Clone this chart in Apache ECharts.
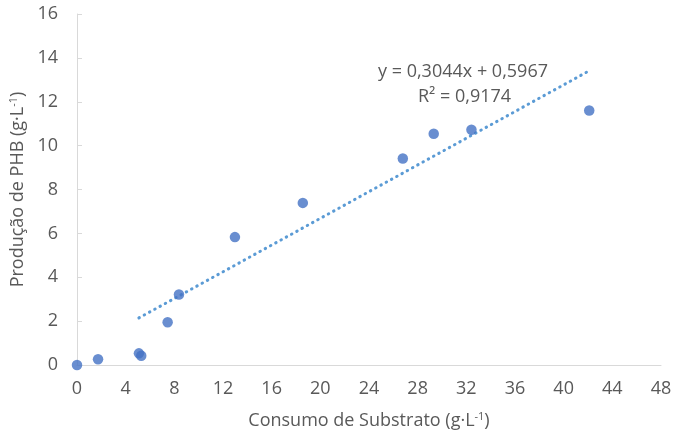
<!DOCTYPE html>
<html>
<head>
<meta charset="utf-8">
<script src="https://cdn.jsdelivr.net/npm/echarts@6/dist/echarts.min.js"></script>
<style>
  html, body { margin: 0; padding: 0; background: #fff; }
  #chart { width: 676px; height: 436px; }
</style>
</head>
<body>
<div id="chart"></div>
<script>
// Substrate consumed (g/L) vs PHB produced (g/L)
const substrato = [0, 1.73, 5.09, 5.28, 7.45, 8.38, 12.98, 18.56, 26.78, 29.32, 32.42, 42.1];
const producao  = [0, 0.26, 0.53, 0.42, 1.95, 3.21, 5.83, 7.39, 9.41, 10.54, 10.72, 11.6];

// Linear fit reported for the data from x = 5.09 onward
const slope = 0.3044;
const intercept = 0.5967;
const fitRange = [5.09, 42.1];
const equationText = 'y = 0,3044x + 0,5967';
const r2Text = 'R² = 0,9174';

const xTicks = [0, 4, 8, 12, 16, 20, 24, 28, 32, 36, 40, 44, 48];
const yTicks = [0, 2, 4, 6, 8, 10, 12, 14, 16];

const FONT = '"Open Sans", Lato, sans-serif';
const TXT = '#595959';
const supStyle = { fontSize: 11, verticalAlign: 'top', color: TXT, fontFamily: FONT, padding: [0, 0, 8, 0] };

const points = substrato.map((x, i) => [x, producao[i]]);
const fitLine = fitRange.map(x => [x, slope * x + intercept]);

const chart = echarts.init(document.getElementById('chart'), null, { renderer: 'canvas' });
chart.setOption({
  animation: false,
  backgroundColor: '#ffffff',
  grid: { left: 77, right: 15, top: 14, bottom: 71, containLabel: false },
  xAxis: {
    type: 'value',
    min: xTicks[0], max: xTicks[xTicks.length - 1], interval: 4,
    axisLine: { show: true, lineStyle: { color: '#d9d9d9', width: 1 } },
    axisTick: { show: false },
    splitLine: { show: false },
    axisLabel: { color: TXT, fontFamily: FONT, fontSize: 18, margin: 15 },
    name: 'Consumo de Substrato (g·L{s|-1})',
    nameLocation: 'middle',
    nameGap: 46,
    nameTextStyle: { color: TXT, fontFamily: FONT, fontSize: 18, rich: { s: supStyle } }
  },
  yAxis: {
    type: 'value',
    min: yTicks[0], max: yTicks[yTicks.length - 1], interval: 2,
    axisLine: { show: true, lineStyle: { color: '#d9d9d9', width: 1 } },
    axisTick: { show: true, inside: true, length: 5, lineStyle: { color: '#d9d9d9' } },
    splitLine: { show: false },
    axisLabel: { color: TXT, fontFamily: FONT, fontSize: 18, margin: 19 },
    name: 'Produção de PHB (g·L{s|-1})',
    nameLocation: 'middle',
    nameGap: 47,
    nameTextStyle: { color: TXT, fontFamily: FONT, fontSize: 18, rich: { s: supStyle } }
  },
  series: [
    {
      type: 'line',
      data: fitLine,
      showSymbol: false,
      symbol: 'none',
      lineStyle: { color: '#5b9bd5', width: 3, type: [0.5, 5.5], cap: 'round' },
      z: 2
    },
    {
      type: 'scatter',
      data: points,
      symbol: 'circle',
      symbolSize: 10.5,
      itemStyle: { color: '#4472c4' },
      z: 3
    }
  ],
  graphic: [
    {
      type: 'text', left: 378, top: 63,
      style: { text: equationText, fill: TXT, font: '18px ' + FONT }
    },
    {
      type: 'text', left: 418, top: 88,
      style: { text: r2Text, fill: TXT, font: '18px ' + FONT }
    }
  ]
});
</script>
</body>
</html>
